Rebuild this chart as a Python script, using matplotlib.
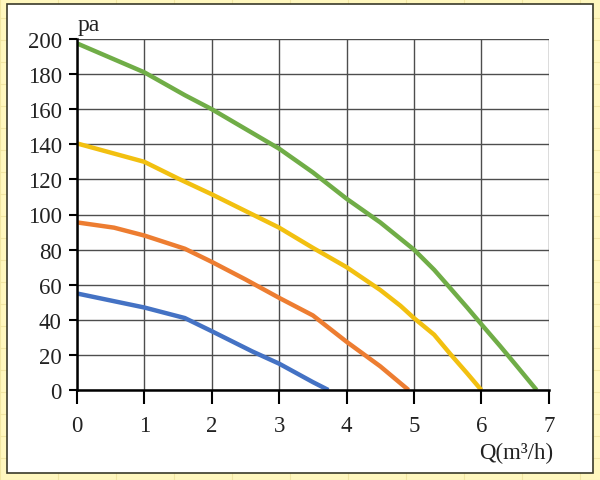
import matplotlib
matplotlib.use("Agg")
import matplotlib.pyplot as plt
from matplotlib.patches import Rectangle

# Data
blue_q = [0, 0.5, 1.0, 1.3, 1.6, 2.0, 2.6, 3.0, 3.5, 3.73]
blue_p = [55, 51, 47, 44, 41, 33.5, 22, 15, 4.5, 0]

orange_q = [0, 0.55, 1.0, 1.6, 2.0, 2.5, 3.0, 3.5, 4.0, 4.5, 4.92]
orange_p = [95.5, 92.5, 88, 80.5, 73, 63, 52.5, 42.5, 27.5, 13.5, 0]

yellow_q = [0, 1.0, 1.5, 2.0, 3.0, 3.5, 4.0, 4.5, 4.8, 5.0, 5.3, 5.54, 5.79, 6.0]
yellow_p = [140.5, 130, 120.5, 111.5, 92.5, 81, 70, 57, 48, 41, 31.5, 20.5, 9.5, 0]

green_q = [0, 1.0, 1.6, 2.0, 3.0, 3.5, 4.0, 4.5, 5.0, 5.3, 5.54, 5.79, 6.0, 6.28, 6.53, 6.82]
green_p = [197.5, 181, 168, 160, 137.5, 124, 109, 95.5, 80, 68.5, 58, 47, 37.5, 25, 13.5, 0]

x_ticks = [0, 1, 2, 3, 4, 5, 6, 7]
y_ticks = [0, 20, 40, 60, 80, 100, 120, 140, 160, 180, 200]

W, H = 600, 481
fig = plt.figure(figsize=(W / 100, H / 100), dpi=100)
fig.patch.set_facecolor('#FFF7BE')

# faint background grid pattern
for gx in range(0, W, 58):
    fig.add_artist(plt.Line2D([gx / W, gx / W], [0, 1], color='#F2E6A2', lw=0.8, zorder=0))
for gy in range(0, H, 22):
    fig.add_artist(plt.Line2D([0, 1], [gy / H, gy / H], color='#F2E6A2', lw=0.8, zorder=0))

# white panel
fig.add_artist(Rectangle((6.5 / W, 1 - 473.5 / H), (593 - 6.5) / W, (473.5 - 5) / H,
                         facecolor='white', edgecolor='#3a3a2a', lw=1.2, zorder=1))

ax = fig.add_axes([77 / W, 1 - 391 / H, (548.7 - 77) / W, (391 - 40) / H])
ax.set_zorder(2)
ax.set_facecolor('white')

font = ['Liberation Serif', 'DejaVu Serif']

for q, p, c in [(blue_q, blue_p, '#4472C4'), (orange_q, orange_p, '#ED7D31'),
                (yellow_q, yellow_p, '#F2C010'), (green_q, green_p, '#70AD47')]:
    ax.plot(q, p, color=c, lw=3.2, solid_capstyle='butt', solid_joinstyle='round', zorder=3)

ax.set_xlim(0, 7)
ax.set_ylim(0, 200)
ax.set_xticks(x_ticks)
ax.set_yticks(y_ticks)
ax.set_xticklabels([str(v) for v in x_ticks], fontfamily=font, fontsize=16.5)
ax.set_yticklabels([str(v) for v in y_ticks], fontfamily=font, fontsize=16.5)
ax.tick_params(axis='x', length=10, width=1.5, color='black', pad=8, labelcolor='#222222')
ax.tick_params(axis='y', length=6, width=1.5, color='black', pad=5, labelcolor='#222222')

ax.grid(True, color='#4d4d4d', lw=1.0, zorder=1)
ax.set_axisbelow(True)
for s in ['top', 'right']:
    ax.spines[s].set_visible(False)
for s in ['left', 'bottom']:
    ax.spines[s].set_linewidth(1.8)
    ax.spines[s].set_color('black')
    ax.spines[s].set_zorder(4)

fig.text(78 / W, 1 - 31 / H, 'pa', fontfamily=font, fontsize=17, color='#222222',
         ha='left', va='baseline')
fig.text(553 / W, 1 - 459 / H, 'Q(m³/h)', fontfamily=font, fontsize=16.5, color='#222222',
         ha='right', va='baseline')

fig.savefig('out.png', dpi=100, facecolor=fig.get_facecolor())
